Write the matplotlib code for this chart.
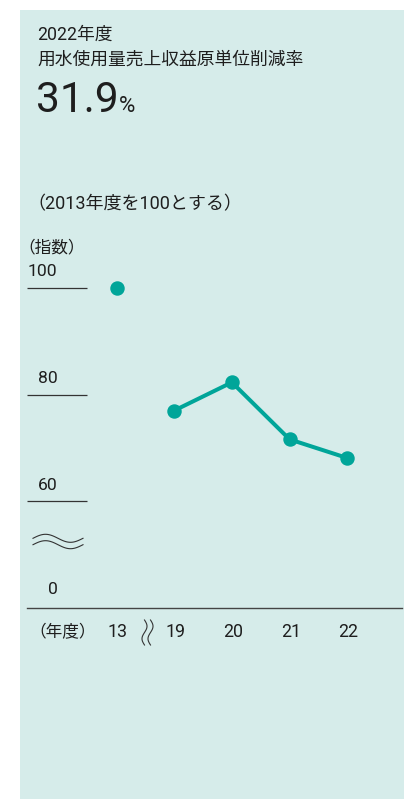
import numpy as np
import matplotlib
matplotlib.use("Agg")
import matplotlib.pyplot as plt
from matplotlib.patches import Rectangle
from matplotlib.lines import Line2D
import matplotlib.transforms as mtransforms

plt.rcParams['font.family'] = ['Roboto', 'Noto Sans CJK JP', 'DejaVu Sans']

# ---- data ----
years = ["13", "19", "20", "21", "22"]
index_values = [100.0, 77.0, 82.3, 71.6, 68.1]
y_ticks = [60, 80, 100]
y_tick_labels = ["60", "80", "100"]
title_year = "2022年度"
title_text = "用水使用量売上収益原単位削減率"
headline_value = "31.9"
headline_unit = "%"
note_text = "（2013年度を100とする）"
y_unit = "（指数）"
x_unit = "（年度）"

# ---- style ----
W, H = 404, 799
BG = "#d6ecea"
TEAL = "#00a599"
TXT = "#1e1e1e"
LINE = "#333333"

fig = plt.figure(figsize=(W / 100, H / 100), dpi=100)
fig.patch.set_facecolor("white")

def fp(x, y):
    """pixel (from top-left) -> figure fraction"""
    return x / W, 1 - y / H

# panel
x0, y0 = fp(19.5, 10)
fig.patches.append(Rectangle((x0, 0), 1 - x0, y0, transform=fig.transFigure,
                             facecolor=BG, edgecolor="none", zorder=-10))

# axes mapping data -> pixels
ax = fig.add_axes([0, 0, 1, 1])
ax.set_zorder(5)
ax.set_facecolor("none")
ax.axis("off")
x_px0, x_step = 116.5, 57.7
y_px100, y_scale = 288.0, 5.33
ax.set_xlim(-x_px0 / x_step, (W - x_px0) / x_step)
ax.set_ylim(100 - (H - y_px100) / y_scale, 100 + y_px100 / y_scale)

xpos = np.arange(len(years))

# short grid lines at ticks
gx0 = (27 - x_px0) / x_step
gx1 = (87 - x_px0) / x_step
ax.hlines(y_ticks, gx0, gx1, color=LINE, lw=0.9, zorder=2)

# tick labels (right aligned, above line)
lab_x = (57.5 - x_px0) / x_step
lab_tr = mtransforms.offset_copy(ax.transData, fig=fig, x=0, y=16, units='dots')
for v, s in zip(y_ticks, y_tick_labels):
    ax.text(lab_x, v, s, transform=lab_tr, ha="right", va="center",
            fontsize=12.6, color=TXT)

# data: 13 alone, 19-22 connected
ax.plot(xpos[:1], index_values[:1], "o", color=TEAL, ms=9.4, zorder=5)
ax.plot(xpos[1:], index_values[1:], "-o", color=TEAL, lw=2.9, ms=9.4, zorder=5)

# x labels
xl_tr = mtransforms.blended_transform_factory(ax.transData, fig.transFigure)
xl_y = fp(0, 632)[1]
for xp, s in zip(xpos, years):
    ax.text(xp + 0.02, xl_y, s, transform=xl_tr, ha="center", va="center",
            fontsize=12.8, color=TXT)

fx, fy = fp(62.5, 632)
fig.text(fx, fy, x_unit, ha="center", va="center", fontsize=12, color=TXT)

# baseline (0)
bx0, by = fp(27, 607.5)
bx1, _ = fp(402, 607.5)
fig.add_artist(Line2D([bx0, bx1], [by, by], transform=fig.transFigure, color="#444444", lw=1.0))
zx, zy = fp(57.5, 590)
fig.text(zx, zy, "0", ha="right", va="center", fontsize=12.6, color=TXT)

# break symbol on y axis (≈)
t = np.linspace(0, 2 * np.pi, 60)
for dy in (-3.2, 3.2):
    xs = 58 + (t / (2 * np.pi) - 0.5) * 50
    ys = 541.5 + dy - 4.0 * np.sin(t)
    pts = [fp(a, b) for a, b in zip(xs, ys)]
    fig.add_artist(Line2D([p[0] for p in pts], [p[1] for p in pts],
                          transform=fig.transFigure, color=LINE, lw=0.8))

# break symbol on x axis (vertical waves)
for dx in (-3.0, 3.0):
    ys = 632.5 + (t / (2 * np.pi) - 0.5) * 25
    xs = 147.5 + dx + 2.5 * np.sin(t)
    pts = [fp(a, b) for a, b in zip(xs, ys)]
    fig.add_artist(Line2D([p[0] for p in pts], [p[1] for p in pts],
                          transform=fig.transFigure, color=LINE, lw=0.8))

# titles
tx, ty = fp(37, 35)
fig.text(tx, ty, title_year, ha="left", va="center", fontsize=12.8, color=TXT)
tx, ty = fp(37, 60)
fig.text(tx, ty, title_text, ha="left", va="center", fontsize=12.8, color=TXT)
tx, ty = fp(35.5, 112.5)
big = fig.text(tx, ty, headline_value, ha="left", va="baseline", fontsize=30.5, color=TXT)
fig.canvas.draw()
bb = big.get_window_extent()
ux = bb.x1 / W + 1.0 / W
fig.text(ux, ty, headline_unit, ha="left", va="baseline", fontsize=16, color=TXT)

tx, ty = fp(27, 204)
fig.text(tx, ty, note_text, ha="left", va="center", fontsize=13, color=TXT)
tx, ty = fp(18, 247)
fig.text(tx, ty, y_unit, ha="left", va="center", fontsize=12, color=TXT)

fig.savefig("out.png", dpi=100, facecolor="white")
